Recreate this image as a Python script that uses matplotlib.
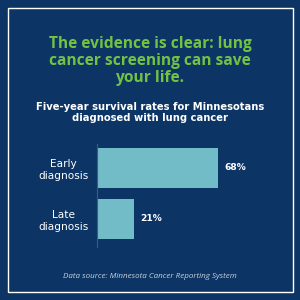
import matplotlib
matplotlib.use("Agg")
import matplotlib.pyplot as plt
from matplotlib.patches import Rectangle

categories = ["Early\ndiagnosis", "Late\ndiagnosis"]
values = [68, 21]
value_labels = ["68%", "21%"]
title = "The evidence is clear: lung\ncancer screening can save\nyour life."
subtitle = "Five-year survival rates for Minnesotans\ndiagnosed with lung cancer"
source = "Data source: Minnesota Cancer Reporting System"

BG = "#0c3565"
BAR = "#72bcc8"
GREEN = "#72c244"

fig = plt.figure(figsize=(3, 3), dpi=100, facecolor=BG)
W = H = 300.0

def fx(px):
    return px / W

def fy(py):
    return 1 - py / H

# white border frame
fig.patches.append(Rectangle((fx(8), fy(292)), fx(285) - fx(0), (292 - 8) / H,
                             transform=fig.transFigure, fill=False,
                             edgecolor="white", linewidth=1.0))

fig.text(0.5, fy(61), title, ha="center", va="center", color=GREEN,
         fontsize=11.2, fontweight="bold", family="Open Sans", linespacing=1.05)
fig.text(0.5, fy(112.5), subtitle, ha="center", va="center", color="white",
         fontsize=7.2, fontweight="bold", family="DejaVu Sans", linespacing=1.2)
fig.text(0.5, fy(277), source, ha="center", va="center", color="#c8d2de",
         fontsize=5.8, style="italic", family="Open Sans")

ax = fig.add_axes([fx(97), fy(247), fx(275) - fx(97), (247 - 144) / H])
ax.set_facecolor("none")
y = list(range(len(values)))
ax.barh(y, values, height=0.78, color=BAR, left=0)
ax.set_xlim(0, 100)
ax.set_ylim(1.55, -0.47)
for s in ["top", "right", "bottom"]:
    ax.spines[s].set_visible(False)
ax.spines["left"].set_color("#3a5a80")
ax.spines["left"].set_linewidth(0.8)
ax.set_xticks([])
ax.set_yticks(y)
ax.set_yticklabels(categories, color="white", fontsize=7.6, family="DejaVu Sans",
                   ha="center", linespacing=1.2)
ax.tick_params(axis="y", length=0, pad=24)
for yi, v, lab in zip(y, values, value_labels):
    ax.text(v + 3.5, yi, lab, va="center", ha="left", color="white",
            fontsize=6.6, fontweight="bold", family="DejaVu Sans")

fig.savefig("out.png", dpi=100, facecolor=BG)
